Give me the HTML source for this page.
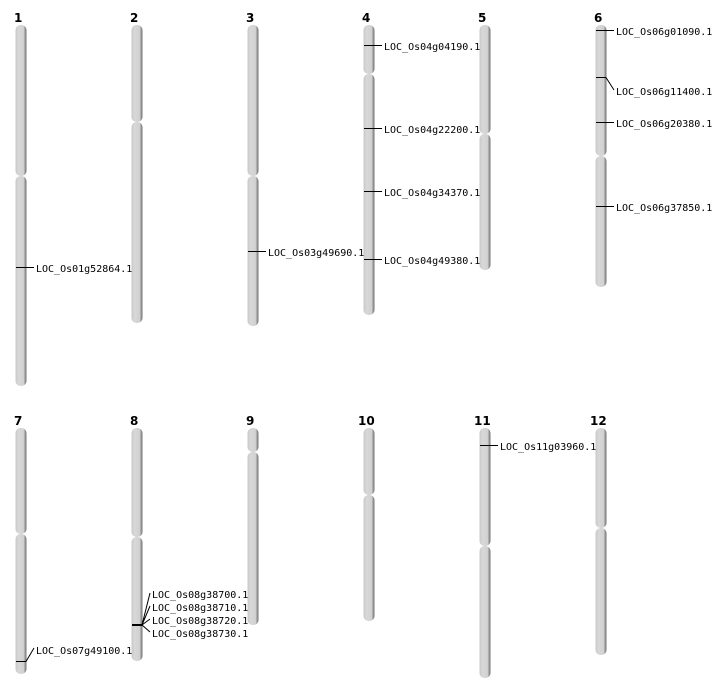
<!DOCTYPE html>
<html><head><meta charset="utf-8"><style>
html,body{margin:0;padding:0;background:#fff}
svg{display:block}
text{font-family:"DejaVu Sans Mono","Liberation Mono",monospace;font-size:10px;fill:#000}
.n{font-family:"DejaVu Sans","Liberation Sans",sans-serif;font-weight:bold;font-size:12px}
.m{stroke:#000;stroke-width:1;fill:none}
</style></head><body>
<svg width="712" height="700" viewBox="0 0 712 700" xmlns="http://www.w3.org/2000/svg">
<defs>
<linearGradient id="g" x1="0" x2="1" y1="0" y2="0">
<stop offset="0" stop-color="#c8c8c8"/>
<stop offset="0.3" stop-color="#d8d8d8"/>
<stop offset="0.75" stop-color="#d0d0d0"/>
<stop offset="0.85" stop-color="#a0a0a0"/>
<stop offset="1" stop-color="#707070"/>
</linearGradient>
</defs>
<g fill="url(#g)">
<rect x="15.5" y="25" width="11" height="151" rx="5"/><rect x="15.5" y="176" width="11" height="210" rx="5"/>
<rect x="131.5" y="25" width="11" height="97" rx="5"/><rect x="131.5" y="122" width="11" height="201" rx="5"/>
<rect x="247.5" y="25" width="11" height="151" rx="5"/><rect x="247.5" y="176" width="11" height="150" rx="5"/>
<rect x="363.5" y="25" width="11" height="49" rx="5"/><rect x="363.5" y="74" width="11" height="241" rx="5"/>
<rect x="479.5" y="25" width="11" height="109" rx="5"/><rect x="479.5" y="134" width="11" height="136" rx="5"/>
<rect x="595.5" y="25" width="11" height="131" rx="5"/><rect x="595.5" y="156" width="11" height="131" rx="5"/>
<rect x="15.5" y="428" width="11" height="106" rx="5"/><rect x="15.5" y="534" width="11" height="140" rx="5"/>
<rect x="131.5" y="428" width="11" height="109" rx="5"/><rect x="131.5" y="537" width="11" height="124" rx="5"/>
<rect x="247.5" y="428" width="11" height="24" rx="5"/><rect x="247.5" y="452" width="11" height="173" rx="5"/>
<rect x="363.5" y="428" width="11" height="67" rx="5"/><rect x="363.5" y="495" width="11" height="126" rx="5"/>
<rect x="479.5" y="428" width="11" height="118" rx="5"/><rect x="479.5" y="546" width="11" height="132" rx="5"/>
<rect x="595.5" y="428" width="11" height="100" rx="5"/><rect x="595.5" y="528" width="11" height="127" rx="5"/>
</g>
<text class="n" x="14" y="22">1</text><text class="n" x="130" y="22">2</text><text class="n" x="246" y="22">3</text>
<text class="n" x="362" y="22">4</text><text class="n" x="478" y="22">5</text><text class="n" x="594" y="22">6</text>
<text class="n" x="14" y="425">7</text><text class="n" x="130" y="425">8</text><text class="n" x="246" y="425">9</text>
<text class="n" x="358" y="425">10</text><text class="n" x="474" y="425">11</text><text class="n" x="590" y="425">12</text>

<path class="m" d="M16 267.5H34"/><text x="36" y="272">LOC_Os01g52864.1</text>
<path class="m" d="M248 251.5H266"/><text x="268" y="256">LOC_Os03g49690.1</text>
<path class="m" d="M364 45.5H382"/><text x="384" y="50">LOC_Os04g04190.1</text>
<path class="m" d="M364 128.5H382"/><text x="384" y="133">LOC_Os04g22200.1</text>
<path class="m" d="M364 191.5H382"/><text x="384" y="196">LOC_Os04g34370.1</text>
<path class="m" d="M364 259.5H382"/><text x="384" y="264">LOC_Os04g49380.1</text>
<path class="m" d="M596 30.5H614"/><text x="616" y="35">LOC_Os06g01090.1</text>
<path class="m" d="M596 77.5H606L614 90"/><text x="616" y="95">LOC_Os06g11400.1</text>
<path class="m" d="M596 122.5H614"/><text x="616" y="127">LOC_Os06g20380.1</text>
<path class="m" d="M596 206.5H614"/><text x="616" y="211">LOC_Os06g37850.1</text>
<path class="m" d="M480 445.5H498"/><text x="500" y="450">LOC_Os11g03960.1</text>
<path class="m" d="M16 661.5H26L34 648"/><text x="36" y="654">LOC_Os07g49100.1</text>
<path d="M132 625H142" stroke="#000" stroke-width="2"/>
<path class="m" d="M142 625L150 593M142 625L150 606M142 625L150 619M142 625L150 632"/>
<text x="152" y="598">LOC_Os08g38700.1</text>
<text x="152" y="611">LOC_Os08g38710.1</text>
<text x="152" y="624">LOC_Os08g38720.1</text>
<text x="152" y="637">LOC_Os08g38730.1</text>
</svg>
</body></html>
